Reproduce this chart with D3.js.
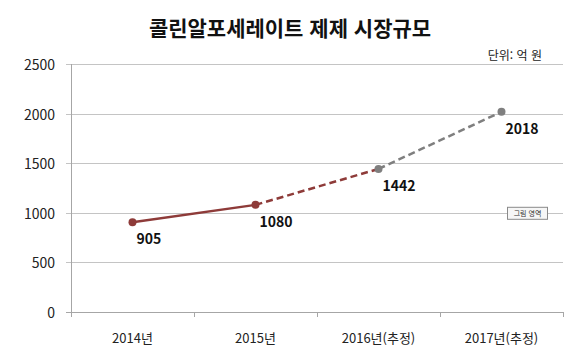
<!doctype html>
<html lang="ko">
<head>
<meta charset="utf-8">
<title>콜린알포세레이트 제제 시장규모</title>
<script src="https://cdn.jsdelivr.net/npm/d3@7"></script>
<style>
  body { margin: 0; background: #fff; }
  text { font-family: "Noto Sans CJK KR", "Noto Sans", sans-serif; }
</style>
</head>
<body>
<script>
var categories = ["2014년", "2015년", "2016년(추정)", "2017년(추정)"];
var values = [905, 1080, 1442, 2018];
var yTicks = [0, 500, 1000, 1500, 2000, 2500];
var title = "콜린알포세레이트 제제 시장규모";
var unitLabel = "단위: 억 원";

var W = 580, H = 354;
var plot = {left: 71, right: 563, top: 64, bottom: 312};
var red = "#8e3b39", gray = "#7f7f7f";

var svg = d3.select("body").append("svg")
            .attr("width", W)
            .attr("height", H);

var x = d3.scaleBand()
          .domain(categories)
          .range([plot.left, plot.right]);
var y = d3.scaleLinear()
          .domain([0, 2500])
          .range([plot.bottom, plot.top]);

// title
svg.append("text")
   .attr("x", W / 2)
   .attr("y", 27)
   .attr("text-anchor", "middle")
   .attr("dominant-baseline", "central")
   .style("font-size", "21px")
   .style("font-weight", "bold")
   .style("fill", "#111")
   .text(title);

svg.append("text")
   .attr("x", 542)
   .attr("y", 54)
   .attr("text-anchor", "end")
   .attr("dominant-baseline", "central")
   .style("font-size", "12px")
   .style("fill", "#222")
   .text(unitLabel);

// gridlines
svg.append("g")
   .selectAll("line")
   .data(yTicks)
   .enter()
   .append("line")
   .attr("x1", plot.left - 5)
   .attr("x2", plot.right)
   .attr("y1", d => Math.round(y(d)) + 0.5)
   .attr("y2", d => Math.round(y(d)) + 0.5)
   .style("stroke", d => d == 0 ? "#a6a6a6" : "#c4c4c4")
   .style("stroke-width", 1);

// y axis line
svg.append("line")
   .attr("x1", plot.left + 0.5)
   .attr("x2", plot.left + 0.5)
   .attr("y1", plot.top)
   .attr("y2", plot.bottom + 5)
   .style("stroke", "#a6a6a6");

// y tick labels
svg.append("g")
   .selectAll("text")
   .data(yTicks)
   .enter()
   .append("text")
   .attr("x", 55)
   .attr("y", d => y(d))
   .attr("text-anchor", "end")
   .attr("dominant-baseline", "central")
   .style("font-size", "14px")
   .style("fill", "#222")
   .text(d => d);

// x ticks
var xEdges = categories.map(c => x(c)).concat([plot.right]);
svg.append("g")
   .selectAll("line")
   .data(xEdges)
   .enter()
   .append("line")
   .attr("x1", d => Math.round(d) + 0.5)
   .attr("x2", d => Math.round(d) + 0.5)
   .attr("y1", plot.bottom)
   .attr("y2", plot.bottom + 5)
   .style("stroke", "#a6a6a6");

svg.append("g")
   .selectAll("text")
   .data(categories)
   .enter()
   .append("text")
   .attr("x", d => x(d) + x.bandwidth() / 2)
   .attr("y", 337)
   .attr("text-anchor", "middle")
   .attr("dominant-baseline", "central")
   .style("font-size", "13px")
   .style("fill", "#222")
   .text(d => d);

// line segments
var pts = categories.map((c, i) => ({cat: c, value: values[i]}));
var segments = [
    {a: 0, b: 1, color: red, dash: null},
    {a: 1, b: 2, color: red, dash: "7,4"},
    {a: 2, b: 3, color: gray, dash: "7,4"}
];
var cx = d => x(d.cat) + x.bandwidth() / 2;

svg.append("g")
   .selectAll("line")
   .data(segments)
   .enter()
   .append("line")
   .attr("x1", d => cx(pts[d.a]))
   .attr("y1", d => y(pts[d.a].value))
   .attr("x2", d => cx(pts[d.b]))
   .attr("y2", d => y(pts[d.b].value))
   .style("stroke", d => d.color)
   .style("stroke-width", 2.5)
   .style("stroke-dasharray", d => d.dash);

svg.append("g")
   .selectAll("circle")
   .data(pts)
   .enter()
   .append("circle")
   .attr("cx", cx)
   .attr("cy", d => y(d.value))
   .attr("r", 4)
   .style("fill", (d, i) => i < 2 ? red : gray);

// data labels
svg.append("g")
   .selectAll("text")
   .data(pts)
   .enter()
   .append("text")
   .attr("x", d => cx(d) + 4)
   .attr("y", d => y(d.value) + 16)
   .attr("dominant-baseline", "central")
   .style("font-size", "14px")
   .style("font-weight", "bold")
   .style("fill", "#111")
   .text(d => d.value);

// "그림 영역" tooltip
var tip = svg.append("g")
             .attr("transform", "translate(507," + (y(1000) - 6) + ")");
tip.append("rect")
   .attr("x", 0.5)
   .attr("y", 0.5)
   .attr("width", 40)
   .attr("height", 12)
   .style("fill", "#f6f6f6")
   .style("stroke", "#8a8a8a");
tip.append("text")
   .attr("x", 20.5)
   .attr("y", 6.5)
   .attr("text-anchor", "middle")
   .attr("dominant-baseline", "central")
   .style("font-size", "7px")
   .style("fill", "#333")
   .text("그림 영역");
</script>
</body>
</html>
